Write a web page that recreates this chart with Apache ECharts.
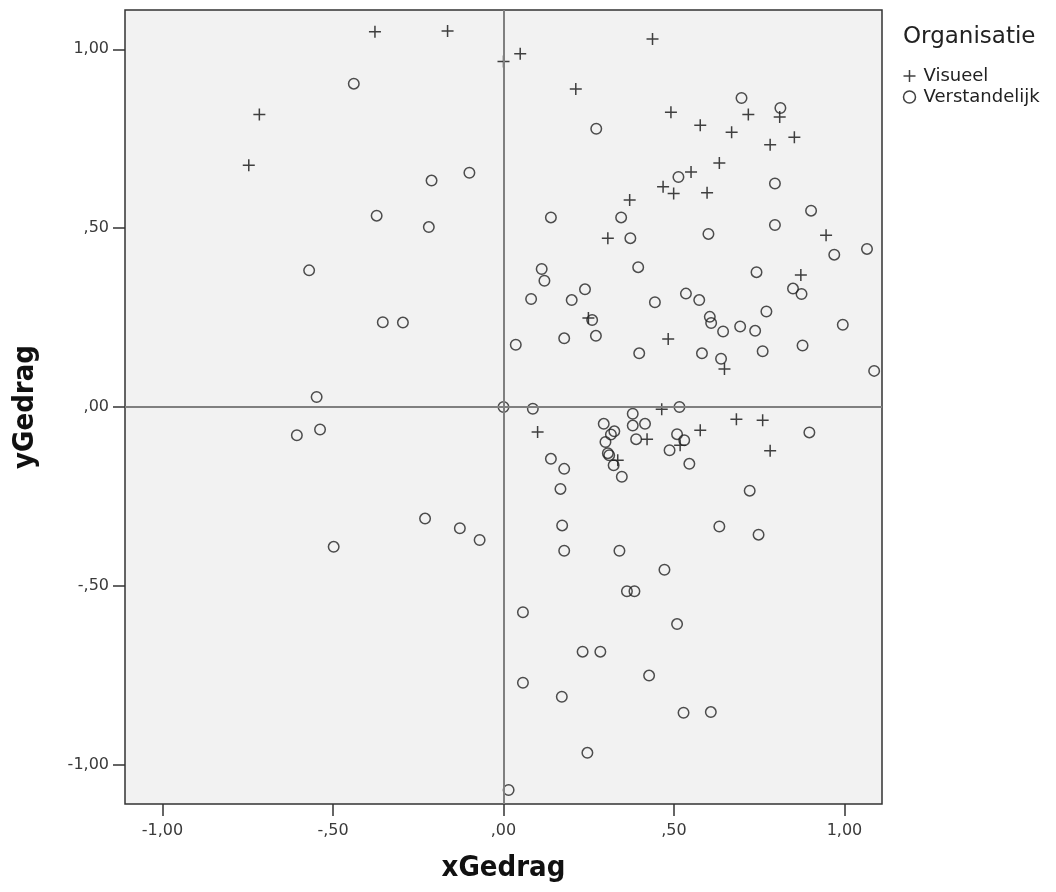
<!DOCTYPE html>
<html>
<head>
<meta charset="utf-8">
<script src="https://cdn.jsdelivr.net/npm/echarts@6/dist/echarts.min.js"></script>
<style>
  html, body { margin: 0; padding: 0; background: #fff; }
  #chart { width: 1056px; height: 892px; }
</style>
</head>
<body>
<div id="chart"></div>
<script>
var chart = echarts.init(document.getElementById('chart'));

// Visueel (+)
var visueelX = [-0.377, -0.164, 0.000, -0.716, -0.747, 0.049, 0.437, 0.212, 0.491, 0.577, 0.718, 0.810,
  0.669, 0.853, 0.782, 0.633, 0.550, 0.468, 0.499, 0.597, 0.370, 0.306, 0.946, 0.872, 0.249, 0.483,
  0.648, 0.464, 0.100, 0.683, 0.760, 0.577, 0.421, 0.518, 0.782, 0.335];
var visueelY = [1.049, 1.051, 0.966, 0.818, 0.676, 0.988, 1.029, 0.889, 0.824, 0.788, 0.818, 0.811,
  0.768, 0.754, 0.733, 0.682, 0.657, 0.616, 0.597, 0.599, 0.579, 0.472, 0.480, 0.369, 0.249, 0.190,
  0.106, -0.006, -0.070, -0.034, -0.037, -0.065, -0.090, -0.107, -0.122, -0.149];

// Verstandelijk (o)
var verstandelijkX = [-0.439, -0.211, -0.100, -0.372, -0.219, -0.570, -0.354, -0.295, -0.548, 0.000,
  -0.606, -0.538, -0.230, -0.128, -0.070, -0.498,
  0.698, 0.812, 0.272, 0.513, 0.796, 0.902, 0.139, 0.345, 0.796, 0.601, 0.372, 1.066, 0.970, 0.395,
  0.112, 0.120, 0.742, 0.849, 0.874, 0.239, 0.081, 0.200, 0.444, 0.535, 0.574, 0.260, 0.605, 0.609,
  0.771, 0.644, 0.694, 0.738, 0.995, 0.036, 0.178, 0.271, 0.877, 0.398, 0.582, 0.760, 0.638, 1.087,
  0.086, 0.516,
  0.897, 0.379, 0.294, 0.379, 0.415, 0.325, 0.315, 0.299, 0.389, 0.509, 0.530, 0.487, 0.306, 0.310,
  0.323, 0.545, 0.139, 0.178, 0.347, 0.167, 0.722, 0.172, 0.633, 0.748, 0.178, 0.340, 0.472, 0.362,
  0.384, 0.057, 0.509, 0.232, 0.284, 0.427, 0.057, 0.171, 0.528, 0.608, 0.246, 0.015];
var verstandelijkY = [0.904, 0.633, 0.655, 0.535, 0.503, 0.382, 0.237, 0.236, 0.028, 0.000,
  -0.079, -0.063, -0.312, -0.339, -0.372, -0.391,
  0.864, 0.836, 0.778, 0.643, 0.625, 0.549, 0.530, 0.530, 0.509, 0.484, 0.472, 0.442, 0.426, 0.391,
  0.386, 0.353, 0.377, 0.331, 0.316, 0.329, 0.302, 0.299, 0.293, 0.317, 0.299, 0.243, 0.252, 0.235,
  0.267, 0.211, 0.225, 0.213, 0.230, 0.174, 0.192, 0.199, 0.172, 0.150, 0.150, 0.156, 0.135, 0.101,
  -0.005, 0.000,
  -0.071, -0.019, -0.047, -0.052, -0.047, -0.068, -0.077, -0.098, -0.090, -0.076, -0.093, -0.121, -0.129, -0.135,
  -0.163, -0.159, -0.145, -0.173, -0.195, -0.229, -0.234, -0.331, -0.334, -0.357, -0.402, -0.402, -0.455, -0.515,
  -0.515, -0.574, -0.607, -0.684, -0.684, -0.751, -0.771, -0.810, -0.855, -0.853, -0.967, -1.071];

var tickValues = [-1, -0.5, 0, 0.5, 1];

function zip(xs, ys) {
  return xs.map((x, i) => [x, ys[i]]);
}

// SPSS style: 0.5 -> ",50", -1 -> "-1,00"
function fmt(v) {
  var s = Math.abs(v).toFixed(2).replace('.', ',');
  if (s.charAt(0) === '0') s = s.slice(1);
  return (v < 0 ? '-' : '') + s;
}

var plusPath = 'path://M5,0L5,10M0,5L10,5';
var labelFont = { color: '#3a3a3a', fontSize: 16, fontFamily: 'DejaVu Sans' };
var nameFont = { color: '#111', fontSize: 29, fontWeight: 'bold', fontFamily: 'DejaVu Sans Condensed' };

function axis(name, gap, margin) {
  return {
    type: 'value',
    min: -1.11,
    max: 1.11,
    name: name,
    nameLocation: 'middle',
    nameGap: gap,
    nameTextStyle: nameFont,
    axisLine: { show: false, onZero: false },
    axisTick: { show: true, length: 12, customValues: tickValues, lineStyle: { color: '#333', width: 1.5 } },
    axisLabel: { customValues: tickValues, formatter: fmt, margin: margin, ...labelFont },
    splitLine: { show: false }
  };
}

chart.setOption({
  animation: false,
  backgroundColor: '#fff',
  title: {
    text: 'Organisatie',
    left: 898,
    top: 21,
    textStyle: { color: '#222', fontSize: 23, fontWeight: 'normal', fontFamily: 'DejaVu Sans' }
  },
  legend: {
    orient: 'vertical',
    left: 896,
    top: 62,
    itemGap: 3,
    itemWidth: 12,
    itemHeight: 12,
    textStyle: { color: '#222', fontSize: 18, fontFamily: 'DejaVu Sans', padding: [0, 0, 0, 3] },
    data: [
      { name: 'Visueel', icon: plusPath, itemStyle: { color: 'none', borderColor: '#111', borderWidth: 1.5 } },
      { name: 'Verstandelijk', icon: 'circle', itemStyle: { color: 'none', borderColor: '#111', borderWidth: 1.5 } }
    ]
  },
  grid: {
    left: 125,
    top: 10,
    width: 757,
    height: 794,
    show: true,
    backgroundColor: '#f2f2f2',
    borderColor: '#333',
    borderWidth: 1.5
  },
  xAxis: axis('xGedrag', 50, 19),
  yAxis: axis('yGedrag', 85, 16),
  series: [
    {
      type: 'scatter',
      name: 'Visueel',
      symbol: plusPath,
      symbolSize: 12,
      itemStyle: { color: 'none', borderColor: '#111', borderWidth: 1.5 },
      data: zip(visueelX, visueelY),
      markLine: {
        silent: true,
        symbol: 'none',
        label: { show: false },
        lineStyle: { color: '#808080', width: 2, type: 'solid' },
        data: [{ xAxis: 0 }, { yAxis: 0 }]
      },
      z: 3
    },
    {
      type: 'scatter',
      name: 'Verstandelijk',
      symbol: 'circle',
      symbolSize: 10.5,
      itemStyle: { color: 'none', borderColor: '#222', borderWidth: 1.5 },
      data: zip(verstandelijkX, verstandelijkY),
      z: 3
    }
  ]
});
</script>
</body>
</html>
